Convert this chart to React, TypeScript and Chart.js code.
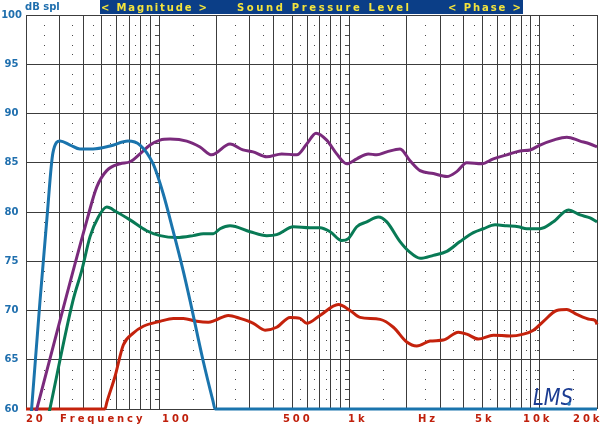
import React, { useEffect, useRef } from "react";
import { Chart, registerables } from "chart.js";

Chart.register(...registerables);

// ---------- data ----------
const blueFreq = [20, 21.4, 23.7, 25.8, 27.7, 30.2, 34.1, 38.4, 45, 55.3, 68.7, 79.4, 93, 105, 118.5, 133.7, 145.5, 170, 192.1, 197, 20000];
const blueDb = [53, 60, 71, 79.5, 86, 87.2, 86.8, 86.4, 86.4, 86.7, 87.2, 86.8, 84.9, 81.9, 78.1, 74.1, 71.0, 65.0, 60.8, 60, 60];

const purpleFreq = [20, 22.8, 41.7, 47.0, 53.1, 62.4, 70.4, 79.4, 89.7, 101.2, 114.2, 139.8, 164.2, 189.2, 236, 276, 312, 368, 441, 529, 597, 668, 760, 858, 969, 1094, 1258, 1393, 1572, 1846, 2084, 2352, 2763, 3249, 3667, 4139, 4962, 5710, 6714, 7886, 8901, 10046, 11800, 13880, 16300, 18400, 20000];
const purpleDb = [55.8, 60, 79.1, 82.5, 84.2, 84.9, 85.1, 85.9, 86.8, 87.3, 87.4, 87.2, 86.6, 85.8, 86.9, 86.3, 86.1, 85.6, 85.9, 85.8, 86.9, 88.0, 87.3, 85.9, 84.9, 85.4, 85.9, 85.8, 86.1, 86.4, 85.2, 84.2, 83.9, 83.6, 84.1, 85.0, 84.9, 85.4, 85.8, 86.2, 86.3, 86.8, 87.3, 87.6, 87.2, 86.9, 86.6];

const greenFreq = [20, 26.7, 35.3, 39.3, 43.4, 48.0, 53.1, 59.9, 70.4, 86.1, 101.2, 123.8, 151.4, 170.9, 192.9, 209.2, 236, 300.8, 368, 415, 508, 621, 701, 792, 912, 988, 1094, 1234, 1420, 1572, 1846, 2084, 2352, 2763, 3249, 3815, 4482, 5060, 5829, 6714, 7727, 8553, 10046, 11800, 14150, 16300, 18400, 20000];
const greenDb = [48.5, 60, 71, 74.1, 77.5, 79.5, 80.5, 80.0, 79.2, 78.1, 77.6, 77.4, 77.6, 77.8, 77.8, 78.3, 78.6, 78.0, 77.6, 77.7, 78.5, 78.4, 78.4, 78.0, 77.1, 77.3, 78.5, 79.0, 79.5, 79.0, 77.0, 75.9, 75.3, 75.6, 76.0, 77.0, 77.9, 78.3, 78.7, 78.6, 78.5, 78.3, 78.3, 79.0, 80.2, 79.7, 79.4, 79.0];

const redFreq = [20, 52.0, 53.2, 58.7, 64.9, 73.2, 82.7, 101.2, 118.9, 134.2, 157.8, 181.5, 197, 231.2, 266.4, 313, 360.6, 415, 488, 550.6, 597, 701, 875, 1008, 1138, 1450, 1703, 2002, 2260, 2655, 3118, 3738, 4139, 4763, 5710, 6989, 8209, 9266, 10457, 12290, 13880, 15660, 18400, 19540, 20000];
const redDb = [60, 60, 60.7, 63.3, 66.5, 67.7, 68.4, 68.9, 69.2, 69.2, 68.9, 68.8, 69.0, 69.5, 69.2, 68.7, 68.0, 68.3, 69.3, 69.2, 68.7, 69.5, 70.6, 70.0, 69.3, 69.1, 68.3, 66.8, 66.4, 66.9, 67.0, 67.8, 67.6, 67.1, 67.5, 67.4, 67.6, 68.0, 68.9, 70.0, 70.1, 69.6, 69.1, 69.0, 68.6];

const yMin = 60;
const yMax = 100;
const yStep = 5;

const xMajor = [20, 30, 40, 50, 60, 70, 80, 90, 100, 200, 300, 400, 500, 600, 700, 800, 900, 1000, 2000, 3000, 4000, 5000, 6000, 7000, 8000, 9000, 10000, 20000];
const xMinor = [25, 35, 45, 55, 65, 75, 85, 95, 150, 250, 350, 450, 550, 650, 750, 850, 950, 1500, 2500, 3500, 4500, 5500, 6500, 7500, 8500, 9500, 15000];
const xDecades = [100, 1000, 10000];

const xLabelText = ["20", "Frequency", "100", "500", "1k", "Hz", "5k", "10k", "20k"];
const xLabelFreq = [20, 30.2, 103.7, 448, 984, 2296, 4576, 8179, 14980];

const yUnitText = "dB spl";
const bannerText = ["< Magnitude >", "Sound Pressure Level", "< Phase >"];
const logoText = "LMS";

// ---------- helpers ----------
const toPoints = (f: number[], v: number[]) => f.map((x, i) => ({ x, y: v[i] }));

function drawSpaced(ctx: CanvasRenderingContext2D, text: string, x: number, y: number, ls: number) {
  let cx = x;
  for (const ch of text) {
    ctx.fillText(ch, cx, y);
    cx += ctx.measureText(ch).width + ls;
  }
}
function spacedToWidth(ctx: CanvasRenderingContext2D, text: string, x: number, y: number, width: number) {
  let w0 = 0;
  const chars = Array.from(text);
  for (const ch of chars) w0 += ctx.measureText(ch).width;
  const ls = chars.length > 1 ? (width - w0) / (chars.length - 1) : 0;
  drawSpaced(ctx, text, x, y, ls);
}

const FONT = "'DejaVu Sans', 'Liberation Sans', Arial, sans-serif";

const gridDots = {
  id: "gridDots",
  beforeDatasetsDraw(chart: any) {
    const { ctx, scales } = chart;
    const xs = scales.x;
    const ys = scales.y;
    ctx.save();
    ctx.fillStyle = "#4a4a4a";
    for (const f of xMinor) {
      const px = Math.round(xs.getPixelForValue(f));
      for (let d = yMin + 1; d < yMax; d++) {
        if (d % yStep === 0) continue;
        const py = Math.round(ys.getPixelForValue(d));
        ctx.fillRect(px, py, 1, 1);
      }
    }
    for (const f of xDecades) {
      const px = Math.round(xs.getPixelForValue(f));
      for (let d = yMin + 1; d < yMax; d++) {
        if (d % yStep === 0) continue;
        const py = Math.round(ys.getPixelForValue(d));
        ctx.fillRect(px - 3, py, 3, 1);
      }
    }
    ctx.restore();
  },
};

const textDecor = {
  id: "textDecor",
  afterDraw(chart: any) {
    const { ctx, scales, chartArea } = chart;
    const xs = scales.x;
    ctx.save();
    // y unit
    ctx.font = `bold 10px ${FONT}`;
    ctx.fillStyle = "#1f6fae";
    ctx.textAlign = "left";
    ctx.textBaseline = "alphabetic";
    ctx.fillText(yUnitText, 25, 10);

    // banner
    ctx.fillStyle = "#0b3e87";
    ctx.fillRect(100, 0, 423, 14);
    ctx.fillStyle = "#f4e43c";
    ctx.font = `bold 10px ${FONT}`;
    spacedToWidth(ctx, bannerText[0], 101, 11, 106);
    spacedToWidth(ctx, bannerText[1], 237, 11, 172);
    spacedToWidth(ctx, bannerText[2], 448, 11, 73);

    // x labels
    ctx.fillStyle = "#c0200c";
    ctx.font = `bold 10px ${FONT}`;
    xLabelText.forEach((t, i) => {
      const px = xs.getPixelForValue(xLabelFreq[i]);
      drawSpaced(ctx, t, px, chartArea.bottom + 13, 2.9);
    });

    // logo
    ctx.fillStyle = "#1b3c92";
    ctx.font = `italic 24px ${FONT}`;
    const w = ctx.measureText(logoText).width;
    ctx.translate(533, 405);
    ctx.scale(40 / w, 0.95);
    ctx.fillText(logoText, 0, 0);
    ctx.setTransform(1, 0, 0, 1, 0, 0);
    ctx.fillStyle = "#2a7cbc";
    ctx.beginPath();
    ctx.arc(569, 404, 1.8, 0, Math.PI * 2);
    ctx.fill();
    ctx.restore();
  },
};

export default function App() {
  const ref = useRef<HTMLCanvasElement | null>(null);
  useEffect(() => {
    if (!ref.current) return;
    const ds = (label: string, f: number[], v: number[], color: string) => ({
      label,
      data: toPoints(f, v),
      borderColor: color,
      backgroundColor: color,
      borderWidth: 3,
      pointRadius: 0,
      cubicInterpolationMode: "monotone" as const,
      fill: false,
      clip: { left: 0, top: 3, right: 3, bottom: 2 },
    });
    const chart = new Chart(ref.current, {
      type: "line",
      data: {
        datasets: [
          ds("Woofer", blueFreq, blueDb, "#1a74ad"),
          ds("Sum", purpleFreq, purpleDb, "#7a2a7c"),
          ds("Mid", greenFreq, greenDb, "#087a55"),
          ds("Tweeter", redFreq, redDb, "#c4220c"),
        ],
      },
      options: {
        animation: false,
        responsive: false,
        devicePixelRatio: 1,
        layout: { padding: { top: 15, right: 3, left: 0, bottom: 0 } },
        plugins: { legend: { display: false }, tooltip: { enabled: false }, title: { display: false } },
        scales: {
          x: {
            type: "logarithmic",
            min: 20,
            max: 20000,
            afterBuildTicks: (scale: any) => {
              scale.ticks = xMajor.map((v) => ({ value: v }));
            },
            afterFit: (scale: any) => {
              scale.height = 16;
            },
            ticks: { display: false },
            grid: { color: "#3c3c3c", lineWidth: 1, drawTicks: false },
            border: { display: false },
          },
          y: {
            type: "linear",
            min: yMin,
            max: yMax,
            afterFit: (scale: any) => {
              scale.width = 26;
            },
            ticks: {
              stepSize: yStep,
              color: "#1f6fae",
              font: { family: FONT, weight: "bold", size: 10 },
              crossAlign: "center",
              padding: 4,
            },
            grid: { color: "#3c3c3c", lineWidth: 1, drawTicks: false },
            border: { display: true, color: "#3c3c3c", width: 1 },
          },
        },
      },
      plugins: [gridDots, textDecor],
    } as any);
    return () => chart.destroy();
  }, []);
  return (
    <div style={{ position: "absolute", left: 0, top: 0, width: 600, height: 425, background: "#fff" }}>
      <canvas ref={ref} width={600} height={425} />
    </div>
  );
}
